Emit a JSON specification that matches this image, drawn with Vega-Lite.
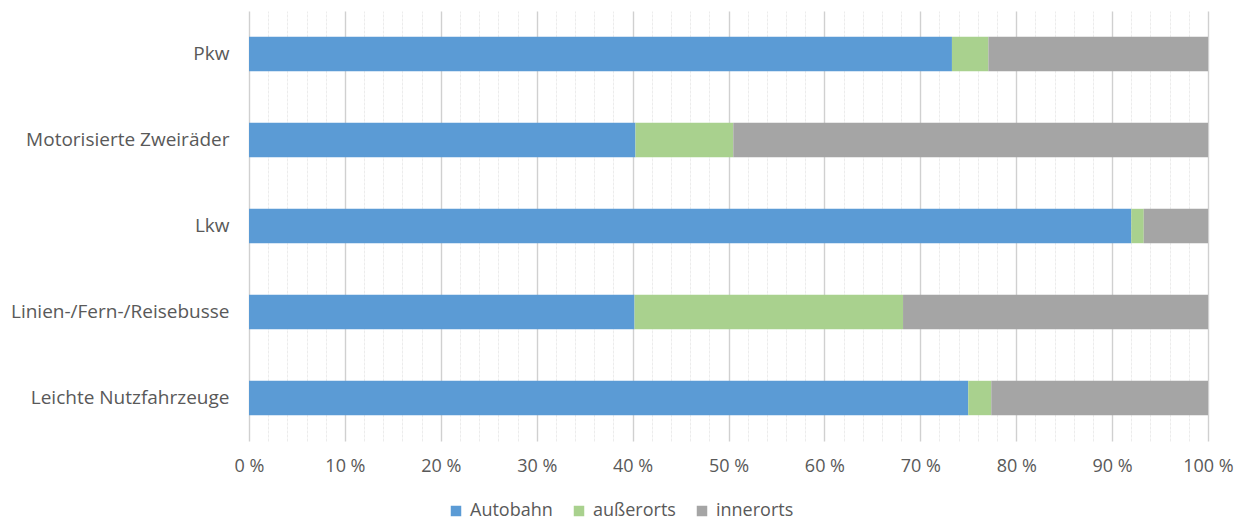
{
  "$schema": "https://vega.github.io/schema/vega-lite/v6.json",
  "width": 959,
  "height": 430,
  "autosize": {"type": "none"},
  "padding": {"left": 249, "top": 11, "right": 37, "bottom": 81},
  "background": "white",
  "config": {
    "view": {"stroke": null},
    "font": "Open Sans"
  },
  "data": {
    "values": [
      {"Fahrzeug": "Pkw", "Kategorie": "Autobahn", "Anteil": 73.3},
      {"Fahrzeug": "Pkw", "Kategorie": "außerorts", "Anteil": 3.8},
      {"Fahrzeug": "Pkw", "Kategorie": "innerorts", "Anteil": 22.9},
      {"Fahrzeug": "Motorisierte Zweiräder", "Kategorie": "Autobahn", "Anteil": 40.3},
      {"Fahrzeug": "Motorisierte Zweiräder", "Kategorie": "außerorts", "Anteil": 10.2},
      {"Fahrzeug": "Motorisierte Zweiräder", "Kategorie": "innerorts", "Anteil": 49.5},
      {"Fahrzeug": "Lkw", "Kategorie": "Autobahn", "Anteil": 92.0},
      {"Fahrzeug": "Lkw", "Kategorie": "außerorts", "Anteil": 1.3},
      {"Fahrzeug": "Lkw", "Kategorie": "innerorts", "Anteil": 6.7},
      {"Fahrzeug": "Linien-/Fern-/Reisebusse", "Kategorie": "Autobahn", "Anteil": 40.2},
      {"Fahrzeug": "Linien-/Fern-/Reisebusse", "Kategorie": "außerorts", "Anteil": 28.0},
      {"Fahrzeug": "Linien-/Fern-/Reisebusse", "Kategorie": "innerorts", "Anteil": 31.8},
      {"Fahrzeug": "Leichte Nutzfahrzeuge", "Kategorie": "Autobahn", "Anteil": 75.0},
      {"Fahrzeug": "Leichte Nutzfahrzeuge", "Kategorie": "außerorts", "Anteil": 2.4},
      {"Fahrzeug": "Leichte Nutzfahrzeuge", "Kategorie": "innerorts", "Anteil": 22.6}
    ]
  },
  "mark": {"type": "bar"},
  "encoding": {
    "y": {
      "field": "Fahrzeug",
      "type": "nominal",
      "sort": ["Pkw", "Motorisierte Zweiräder", "Lkw", "Linien-/Fern-/Reisebusse", "Leichte Nutzfahrzeuge"],
      "scale": {"paddingInner": 0.6, "paddingOuter": 0.3},
      "axis": {
        "title": null,
        "ticks": false,
        "domain": false,
        "labelFontSize": 19,
        "labelColor": "#595959",
        "labelPadding": 20,
        "labelLimit": 300
      }
    },
    "x": {
      "field": "Anteil",
      "type": "quantitative",
      "stack": "zero",
      "scale": {"domain": [0, 100], "nice": false},
      "axis": {
        "title": null,
        "values": [0,2,4,6,8,10,12,14,16,18,20,22,24,26,28,30,32,34,36,38,40,42,44,46,48,50,52,54,56,58,60,62,64,66,68,70,72,74,76,78,80,82,84,86,88,90,92,94,96,98,100],
        "ticks": false,
        "domain": false,
        "grid": true,
        "gridColor": {"condition": {"test": "datum.value % 10 === 0", "value": "#d0d0d0"}, "value": "#ececec"},
        "gridWidth": {"condition": {"test": "datum.value % 10 === 0", "value": 1.4}, "value": 1},
        "gridDash": {"condition": {"test": "datum.value % 10 === 0", "value": []}, "value": [3, 1]},
        "labelExpr": "datum.value % 10 === 0 ? datum.value + ' %' : ''",
        "labelFontSize": 18,
        "labelColor": "#595959",
        "labelPadding": 16,
        "labelFlush": false,
        "labelOverlap": false
      }
    },
    "color": {
      "field": "Kategorie",
      "type": "nominal",
      "scale": {"domain": ["Autobahn", "außerorts", "innerorts"], "range": ["#5b9bd5", "#a9d18e", "#a5a5a5"]},
      "legend": {
        "title": null,
        "orient": "none",
        "legendX": 198,
        "legendY": 491,
        "direction": "horizontal",
        "symbolType": "square",
        "symbolSize": 110,
        "symbolStrokeWidth": 0,
        "labelFontSize": 18,
        "labelColor": "#595959",
        "labelOffset": 5,
        "columnPadding": 17
      }
    },
    "order": {"field": "Kategorie", "sort": "ascending"}
  }
}
